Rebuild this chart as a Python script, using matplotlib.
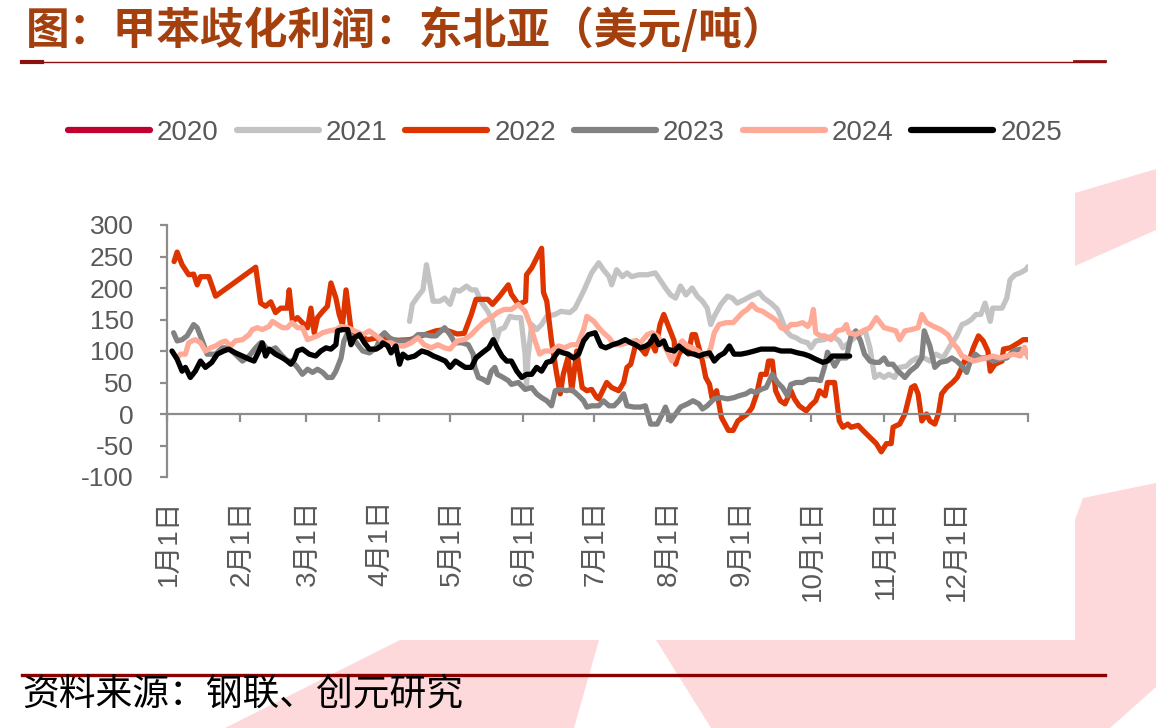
import matplotlib
matplotlib.use("Agg")
import matplotlib.pyplot as plt
from matplotlib.patches import Polygon
from matplotlib.lines import Line2D

# (day of year, profit USD/t)
s2020 = []
s2021 = [(102.8, 147), (104, 174), (106.4, 187), (108.5, 197), (110, 237), (112.8, 179), (115.6, 179),
         (117.7, 184), (120, 174), (122, 197), (124, 195), (127, 203), (129, 197), (131, 197), (133, 179),
         (136, 163), (138, 147), (139.6, 116), (141, 134), (143, 137), (145.4, 155), (147.5, 153), (150, 153),
         (151.8, 95), (152.4, 42), (153, 89), (154.6, 142), (156.7, 134), (158.8, 142), (161, 155),
         (164.5, 158), (167, 163), (170.8, 161), (173, 168), (176.6, 195), (180, 224), (183, 240), (185, 229),
         (187.4, 218), (188.5, 205), (190.6, 229), (193, 218), (195, 224), (197, 218), (200, 221),
         (203.6, 221), (207, 224), (209, 213), (211.3, 200), (213.5, 189), (215.6, 184), (217.7, 203),
         (220, 189), (222.6, 200), (224.8, 187), (227, 179), (229, 168), (230.5, 142), (232, 155),
         (234.8, 174), (237.6, 187), (239.7, 184), (241.7, 176), (244.5, 181), (247.5, 187), (251, 193),
         (253, 184), (256, 176), (258.8, 166), (260.3, 153), (262.4, 132), (264.5, 124), (266.7, 121),
         (268.8, 116), (271.6, 113), (273, 105), (275, 116), (278.6, 118), (282, 124), (285, 116),
         (286.5, 105), (289, 113), (293, 126), (296, 132), (298, 105), (300, 58), (302, 63), (304, 58),
         (306, 63), (308.5, 58), (310.6, 74), (313.5, 76), (315.6, 84), (318, 89), (321, 89), (323.4, 84),
         (326, 95), (329, 89), (332, 108), (334.8, 124), (337, 142), (339, 145), (341, 150), (343, 158),
         (345, 158), (346.8, 176), (349, 147), (350, 168), (354, 168), (356, 184), (357.4, 213),
         (359.5, 221), (361.7, 224), (364, 229), (365, 234)]
s2022 = [(3, 242), (4.3, 257), (6.4, 237), (9.2, 221), (11.3, 222), (12.8, 205), (14.2, 218), (17.7, 218),
         (20.6, 187), (37.6, 233), (39.7, 176), (41.8, 171), (44, 178), (46, 161), (48.2, 168), (51, 168),
         (51.8, 197), (53.2, 147), (55.3, 153), (57.4, 145), (59.6, 137), (61, 168), (62.4, 129), (63.8, 153),
         (66, 163), (68, 171), (69.5, 208), (71.6, 184), (73, 158), (74.4, 142), (75.9, 197), (78, 134),
         (81, 125), (85, 118), (89.4, 121), (97.9, 117), (103, 118), (114, 132), (117.7, 134), (123, 127),
         (126, 128), (129, 158), (131, 182), (136, 182), (138, 174), (141, 187), (144.7, 205), (146, 190),
         (149, 174), (152, 179), (152.4, 221), (154.6, 232), (158.8, 263), (159.6, 193), (161, 179),
         (163, 116), (165, 68), (166.7, 32), (168, 63), (170, 90), (171.6, 37), (173.7, 100), (176, 42),
         (178, 37), (180, 39), (182, 27), (183, 24), (186.4, 50), (188.5, 42), (191.5, 37), (193.6, 50),
         (195, 74), (196.6, 79), (198, 100), (199, 116), (200.7, 105), (202.8, 95), (205, 116), (207, 100),
         (209, 142), (210.6, 158), (212.8, 137), (215, 116), (215.6, 79), (217, 95), (219, 105), (221, 95),
         (222.6, 126), (224, 126), (225.5, 105), (227, 84), (228.4, 58), (230, 47), (231, 26), (233, 37),
         (235, -5), (238, -26), (240, -26), (242, -11), (246, 0), (248, 10), (250, 32), (251.8, 63),
         (254, 63), (255, 84), (256.6, 84), (258, 37), (260, 21), (262, 16), (264.5, 37), (266, 24),
         (268, 13), (271, 5), (273, 14), (275, 21), (276.6, 37), (279, 29), (280, 50), (283, 50),
         (285, -11), (286.5, -21), (288.6, -16), (290, -21), (293, -18), (295, -26), (298, -37),
         (300.7, -47), (302.8, -60), (305, -47), (307, -47), (307.8, -21), (310.6, -16), (312.8, 0),
         (315.6, 42), (317, 45), (318.4, 32), (320, -11), (322, 0), (323.4, -11), (325.5, -16), (327, 0),
         (328.4, 32), (330.5, 42), (333, 50), (335, 58), (337, 74), (338, 84), (340, 84), (341.8, 105),
         (344, 124), (346, 116), (348, 100), (349, 68), (351, 79), (354, 84), (354.6, 103), (357.4, 105),
         (361, 113), (363, 118), (365, 118)]
s2023 = [(2.8, 129), (4.3, 116), (6.4, 118), (8.5, 124), (11.3, 142), (12.8, 137), (15, 116), (17, 95),
         (20.6, 95), (23.4, 105), (25.5, 105), (28.4, 97), (32, 84), (34.8, 92), (37.6, 105), (39.7, 113),
         (41, 110), (43, 100), (46, 105), (48.2, 95), (51, 84), (53, 84), (55.3, 74), (57.4, 63), (59.6, 71),
         (61.7, 66), (63.8, 71), (66, 66), (68, 58), (70, 58), (71.6, 68), (73.8, 89), (75, 116), (76.6, 129),
         (78.7, 121), (80.9, 110), (83, 100), (85.8, 97), (88.7, 105), (90.8, 124), (92.2, 129), (94.3, 121),
         (97, 116), (100.7, 116), (103.5, 116), (106.4, 126), (109, 126), (112, 124), (114, 124),
         (117.7, 137), (120, 126), (122, 113), (125, 113), (127.7, 110), (129.8, 95), (130.5, 74), (132, 58),
         (134, 55), (136, 50), (137.5, 68), (139, 74), (140, 63), (142.5, 58), (144.7, 53), (146, 47),
         (149, 50), (151.8, 39), (154.6, 42), (156.7, 32), (158.8, 26), (161, 21), (163, 13), (164.6, 37),
         (166.7, 39), (169.4, 37), (171.5, 39), (174.5, 29), (176.6, 21), (178, 11), (180, 13), (183, 13),
         (185, 21), (187.4, 13), (189.5, 13), (191.6, 21), (193.6, 32), (195, 13), (198, 11), (200.7, 11),
         (202.8, 13), (205, -16), (207.8, -16), (210, 0), (211.3, 11), (213.5, -11), (215.6, 0), (217.7, 11),
         (220.6, 16), (223, 21), (225.5, 16), (227, 8), (229, 13), (231.9, 24), (234.8, 26), (237.6, 24),
         (240.4, 26), (242.5, 29), (245.4, 32), (247.5, 37), (249.6, 34), (251.8, 39), (254, 42), (255, 50),
         (256.6, 63), (258.8, 50), (260.9, 42), (263, 29), (264.5, 47), (266.7, 50), (269.5, 50), (272, 55),
         (275, 55), (277, 53), (278.7, 74), (280, 98), (283, 76), (285, 89), (288, 89), (290, 124),
         (292, 132), (294, 116), (295.7, 95), (298, 84), (300, 82), (302, 82), (304, 89), (305.6, 79),
         (307.7, 79), (310, 68), (312.8, 58), (315, 68), (317.7, 76), (320, 89), (321, 132), (323.4, 108),
         (325.5, 74), (327.7, 82), (330.5, 84), (332.7, 89), (334.8, 84), (337, 76), (339, 66), (340.4, 82),
         (342.6, 95), (344.7, 89), (347.5, 89), (350.4, 84), (353, 87), (356, 89), (358.8, 100),
         (361.7, 103), (364, 97)]
s2024 = [(4.3, 89), (5.7, 95), (7.8, 95), (9.2, 113), (10.6, 116), (12, 118), (14.2, 113), (16.3, 100),
         (18.4, 105), (20.6, 108), (22.7, 113), (24.8, 116), (27, 108), (29, 116), (32, 118), (34.8, 126),
         (36.2, 134), (38.3, 137), (40.4, 134), (43.3, 139), (44.7, 147), (46.8, 142), (49, 137), (51, 137),
         (53, 145), (55.3, 137), (57.4, 137), (59.6, 118), (61.7, 121), (63.8, 124), (66, 129), (68.8, 132),
         (71.6, 134), (73.8, 139), (76.6, 137), (79.4, 132), (83, 126), (85.8, 132), (88.7, 124),
         (92.2, 113), (95, 113), (97.9, 108), (100.7, 108), (103.5, 113), (106.4, 121), (109, 110),
         (112, 105), (114.8, 110), (117.7, 105), (120, 103), (123, 116), (126, 118), (129, 126), (131, 134),
         (134, 145), (137.5, 153), (140, 161), (143, 166), (146, 166), (149, 174), (151.8, 163), (154, 142),
         (156, 116), (158, 95), (160, 100), (163, 100), (166, 108), (168.5, 105), (171.4, 110), (174, 110),
         (176.6, 134), (178, 155), (181, 147), (183, 137), (185, 129), (187.4, 121), (189.5, 110),
         (192.3, 110), (195, 113), (198, 116), (200.7, 113), (203.6, 126), (205.7, 129), (207.8, 124),
         (210, 113), (212, 100), (214, 84), (216.3, 105), (218.4, 116), (220.6, 108), (222.7, 105),
         (225, 100), (227, 95), (229, 92), (230.5, 105), (232, 129), (234, 142), (237, 145), (240, 145),
         (242, 153), (244, 161), (246, 166), (248, 174), (250, 166), (252.5, 163), (254.5, 158),
         (256.6, 153), (258.8, 147), (260.3, 137), (262.4, 134), (264.5, 142), (266.7, 142), (269.5, 145),
         (271.6, 139), (273, 147), (274, 166), (275, 129), (277, 124), (279, 124), (281.5, 118), (284, 132),
         (286.5, 134), (288, 142), (289, 129), (292, 126), (295, 132), (298, 137), (300.7, 153), (303, 142),
         (304, 137), (307, 134), (309, 132), (310.6, 118), (312.8, 132), (315.6, 134), (318.4, 137),
         (320, 158), (322, 145), (325, 139), (328, 134), (331, 126), (333, 113), (335, 105), (337, 92),
         (339, 89), (342, 84), (345, 87), (347.5, 89), (350, 92), (353, 89), (356, 92), (359, 95),
         (361.7, 92), (363.5, 106), (365, 90)]
s2025 = [(2.1, 100), (4.3, 87), (6.4, 68), (7.8, 74), (9.9, 58), (12, 68), (14.2, 84), (16.3, 74), (19, 82),
         (21.3, 95), (24, 100), (26.2, 103), (29, 97), (32, 92), (34.8, 87), (36.9, 84), (39, 100),
         (40.4, 113), (41.8, 92), (43.3, 103), (46, 95), (49, 89), (51, 84), (52.5, 79), (54, 87), (55.3, 100),
         (57.4, 103), (60.3, 95), (63, 92), (65.2, 100), (67.4, 105), (69.5, 103), (71.6, 110), (72.3, 132),
         (74.4, 134), (76.6, 134), (78, 110), (79.4, 121), (81.6, 126), (83.7, 113), (85.8, 103),
         (88.7, 103), (90.8, 108), (91.5, 113), (93.6, 108), (95, 97), (97, 108), (98.6, 79), (100, 95),
         (102, 89), (105, 92), (108, 100), (110.6, 97), (113, 92), (115, 89), (118, 84), (120, 74),
         (122.3, 84), (124.4, 79), (126.4, 74), (129, 74), (131, 89), (133.6, 97), (136.4, 105), (138.3, 118),
         (140, 105), (142, 92), (144, 84), (146, 84), (148.3, 68), (150.4, 58), (152.4, 63), (154.6, 63),
         (156.7, 74), (158.8, 68), (161, 82), (163, 84), (166, 100), (168, 97), (170, 95), (172.3, 89),
         (174.5, 95), (176.6, 116), (178.7, 126), (181.5, 129), (183, 116), (184, 108), (186, 105),
         (189, 110), (191.5, 113), (194.3, 118), (196.6, 113), (198.6, 110), (200.7, 105), (203, 108),
         (205, 113), (206.4, 124), (208.5, 110), (210.6, 116), (212, 103), (215, 100), (217, 108),
         (218.4, 103), (220.6, 97), (223.4, 95), (225.5, 92), (227.6, 95), (230, 97), (232, 84), (234, 92),
         (236.3, 97), (238.4, 108), (240.4, 95), (243.3, 95), (246, 97), (249, 100), (251.8, 103),
         (254.6, 103), (257.5, 103), (260.3, 100), (264.5, 100), (267.4, 97), (270, 95), (272.3, 92),
         (275, 87), (278, 82), (280, 84), (282, 92), (285, 92), (288, 92), (289.4, 92)]

years = ["2020", "2021", "2022", "2023", "2024", "2025"]
series = [s2020, s2021, s2022, s2023, s2024, s2025]
colors = ["#C0002F", "#C3C3C3", "#DE3500", "#828282", "#FFAA97", "#000000"]

month_days = [0, 31, 59, 90, 120, 151, 181, 212, 243, 273, 304, 334, 365]
month_labels = ["1月1日", "2月1日", "3月1日", "4月1日", "5月1日", "6月1日",
                "7月1日", "8月1日", "9月1日", "10月1日", "11月1日", "12月1日"]
yticks = [-100, -50, 0, 50, 100, 150, 200, 250, 300]

W, H = 1156, 728
fig = plt.figure(figsize=(W / 100, H / 100), dpi=100)
fig.patch.set_facecolor("white")

def fx(x):
    return x / W

def fy(y):
    return 1 - y / H

# faint watermark visible around the chart area
pink = "#FDD9DC"
for pts in ([(1075, 193), (1156, 169), (1156, 230), (1075, 266)],
            [(1075, 520), (1083, 498), (1156, 483), (1156, 687), (1110, 728), (711, 728), (656, 640), (1075, 640)],
            [(400, 640), (599, 640), (574, 728), (225, 728)]):
    fig.patches.append(Polygon([(fx(a), fy(b)) for a, b in pts], closed=True, facecolor=pink,
                               edgecolor="none", transform=fig.transFigure, zorder=0))

cjk = ["Noto Sans CJK SC", "DejaVu Sans"]
num = ["Liberation Sans", "Noto Sans CJK SC"]
grey = "#595959"
axis_c = "#8C8C8C"

# title and rules
fig.text(fx(26), fy(30), "图：甲苯歧化利润：东北亚（美元/吨）", family=cjk, fontsize=31.5,
         fontweight="bold", color="#A3400E", va="center", ha="left")
fig.add_artist(Line2D([fx(22), fx(1105)], [fy(62), fy(62)], color="#8B1010", lw=1.0, transform=fig.transFigure))
fig.add_artist(Line2D([fx(22), fx(42)], [fy(62), fy(62)], color="#8B1010", lw=3.0, transform=fig.transFigure))
fig.add_artist(Line2D([fx(1074), fx(1105)], [fy(61), fy(61)], color="#8B1010", lw=2.0, transform=fig.transFigure))
fig.add_artist(Line2D([fx(22), fx(1105)], [fy(675), fy(675)], color="#8B0000", lw=2.4, transform=fig.transFigure))
fig.text(fx(22), fy(694), "资料来源：钢联、创元研究", family=cjk, fontsize=26.5, color="black",
         va="center", ha="left")

ax = fig.add_axes([fx(167), fy(477), fx(1028) - fx(167), fy(225) - fy(477)])
ax.set_facecolor("none")

handles = []
for yr, s, c in zip(years, series, colors):
    xs = [p[0] for p in s]
    ys = [p[1] for p in s]
    h, = ax.plot(xs, ys, color=c, lw=3.8, solid_joinstyle="round", solid_capstyle="round", label=yr)
    handles.append(h)

ax.set_xlim(0, 365)
ax.set_ylim(-100, 300)
for sp in ["top", "right"]:
    ax.spines[sp].set_visible(False)
ax.spines["left"].set_color(axis_c)
ax.spines["left"].set_linewidth(1.6)
ax.spines["bottom"].set_position(("data", 0))
ax.spines["bottom"].set_color(axis_c)
ax.spines["bottom"].set_linewidth(1.6)

ax.set_yticks(yticks)
ax.set_yticklabels([str(v) for v in yticks], family=num, fontsize=19, color=grey)
ax.tick_params(axis="y", direction="out", length=5, width=1.6, color=axis_c, pad=19)
ax.set_xticks(month_days)
ax.tick_params(axis="x", direction="out", length=6, width=1.6, color=axis_c, labelbottom=False)

for d, lab in zip(month_days, month_labels):
    ax.annotate(lab, xy=(d, 0), xycoords=("data", "axes fraction"), xytext=(1, -16),
                textcoords="offset points", rotation=90, ha="center", va="top",
                family=num, fontsize=20, color=grey)

leg = fig.legend(handles=handles, loc="center", bbox_to_anchor=(fx(565), fy(133)), ncol=6,
                 frameon=False, prop={"family": num, "size": 20}, handlelength=2.95,
                 handletextpad=0.25, columnspacing=0.65, labelcolor=grey)
for lh in leg.get_lines():
    lh.set_linewidth(4.5)

fig.savefig("out.png", dpi=100)
